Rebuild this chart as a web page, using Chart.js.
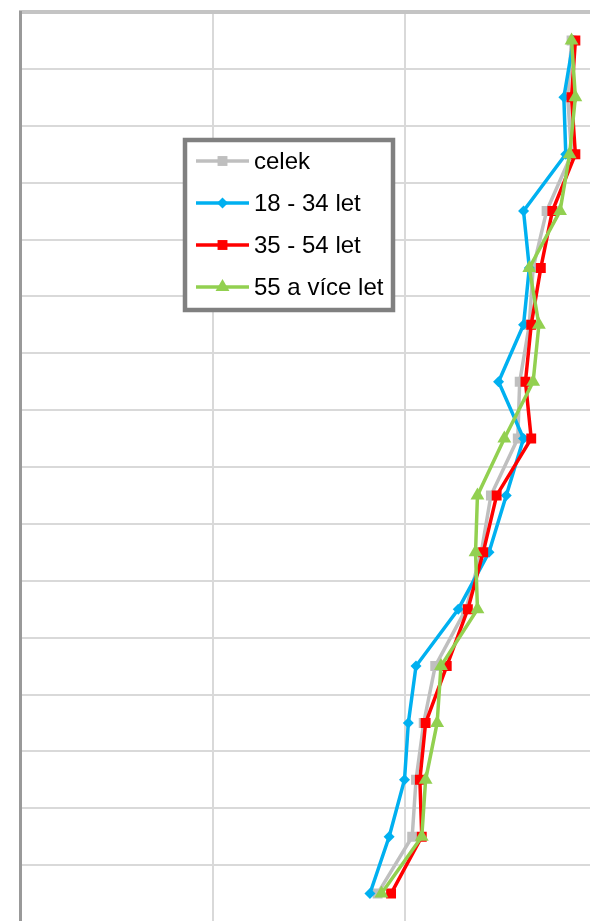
<!DOCTYPE html>
<html lang="cs">
<head>
<meta charset="utf-8">
<title>Vývoj podle věkových skupin</title>
<script src="https://cdn.jsdelivr.net/npm/chart.js@4.4.1/dist/chart.umd.min.js"></script>
<style>
  html, body { margin: 0; padding: 0; background: #fff; overflow: hidden; }
  #clip { width: 590px; height: 921px; overflow: hidden; position: relative; }
  #wrap { width: 800px; height: 930px; position: absolute; left: 0; top: 0; }
</style>
</head>
<body>
<div id="clip">
  <div id="wrap"><canvas id="ageChart"></canvas></div>
</div>
<script>
// kategorie (popisky osy nejsou ve výřezu vidět)
const categories = ["1", "2", "3", "4", "5", "6", "7", "8", "9", "10", "11", "12", "13", "14", "15", "16"];
const seriesLabels = ["celek", "18 - 34 let", "35 - 54 let", "55 a více let"];
const xTicks = [0, 1, 2, 3, 4];

const celek = [2.87, 2.85, 2.87, 2.74, 2.67, 2.65, 2.60, 2.59, 2.45, 2.40, 2.32, 2.16, 2.10, 2.06, 2.04, 1.86];
const vek18_34 = [2.88, 2.83, 2.84, 2.62, 2.65, 2.62, 2.49, 2.62, 2.53, 2.44, 2.28, 2.06, 2.02, 2.00, 1.92, 1.82];
const vek35_54 = [2.89, 2.87, 2.89, 2.77, 2.71, 2.66, 2.63, 2.66, 2.48, 2.41, 2.33, 2.22, 2.11, 2.08, 2.09, 1.93];
const vek55 = [2.87, 2.89, 2.86, 2.81, 2.65, 2.70, 2.67, 2.52, 2.38, 2.37, 2.38, 2.19, 2.17, 2.11, 2.09, 1.88];

const makeSet = (label, data, color, style, radius, order) => ({
  label: label,
  data: data,
  borderColor: color,
  backgroundColor: color,
  pointBackgroundColor: color,
  pointBorderColor: color,
  pointStyle: style,
  pointRadius: radius,
  pointBorderWidth: 0,
  borderWidth: 3.5,
  tension: 0,
  order: order,
});

// legenda kreslená do rámečku uvnitř grafu
const boxLegend = {
  id: "boxLegend",
  afterDraw(chart) {
    const ctx = chart.ctx;
    ctx.save();
    ctx.fillStyle = "#ffffff";
    ctx.fillRect(185, 140, 208, 170);
    ctx.strokeStyle = "#808080";
    ctx.lineWidth = 4.5;
    ctx.strokeRect(185, 140, 208, 170);
    const rows = [161, 203, 245, 287];
    chart.data.datasets.forEach((ds, i) => {
      const y = rows[i];
      ctx.strokeStyle = ds.borderColor;
      ctx.lineWidth = 3.5;
      ctx.beginPath();
      ctx.moveTo(196, y);
      ctx.lineTo(249, y);
      ctx.stroke();
      ctx.fillStyle = ds.borderColor;
      Chart.helpers.drawPoint(ctx, { pointStyle: ds.pointStyle, radius: ds.pointRadius, rotation: 0, borderWidth: 0 }, 222.5, y);
      ctx.fillStyle = "#000000";
      ctx.font = "24px 'Liberation Sans', Arial, sans-serif";
      ctx.textBaseline = "middle";
      ctx.fillText(ds.label, 254, y + 1);
    });
    ctx.restore();
  },
};

new Chart(document.getElementById("ageChart"), {
  type: "line",
  data: {
    labels: categories,
    datasets: [
      makeSet(seriesLabels[0], celek, "#bfbfbf", "rect", 7, 3),
      makeSet(seriesLabels[1], vek18_34, "#00b0f0", "rectRot", 5.5, 2),
      makeSet(seriesLabels[2], vek35_54, "#ff0000", "rect", 7, 1),
      makeSet(seriesLabels[3], vek55, "#92d050", "triangle", 8, 0),
    ],
  },
  options: {
    indexAxis: "y",
    responsive: true,
    maintainAspectRatio: false,
    animation: false,
    layout: { padding: { left: 20.5, top: 12, right: 11.5, bottom: 8 } },
    plugins: { legend: { display: false }, tooltip: { enabled: false } },
    scales: {
      x: {
        type: "linear",
        position: "top",
        min: xTicks[0],
        max: xTicks[xTicks.length - 1],
        ticks: { display: false, stepSize: 1 },
        grid: { color: "#d9d9d9", lineWidth: 2, drawTicks: false },
        border: { color: "#c4c4c4", width: 4 },
      },
      y: {
        type: "category",
        offset: true,
        ticks: { display: false },
        grid: { offset: true, color: "#d9d9d9", lineWidth: 2, drawTicks: false },
        border: { color: "#999999", width: 3 },
      },
    },
  },
  plugins: [boxLegend],
});
</script>
</body>
</html>
